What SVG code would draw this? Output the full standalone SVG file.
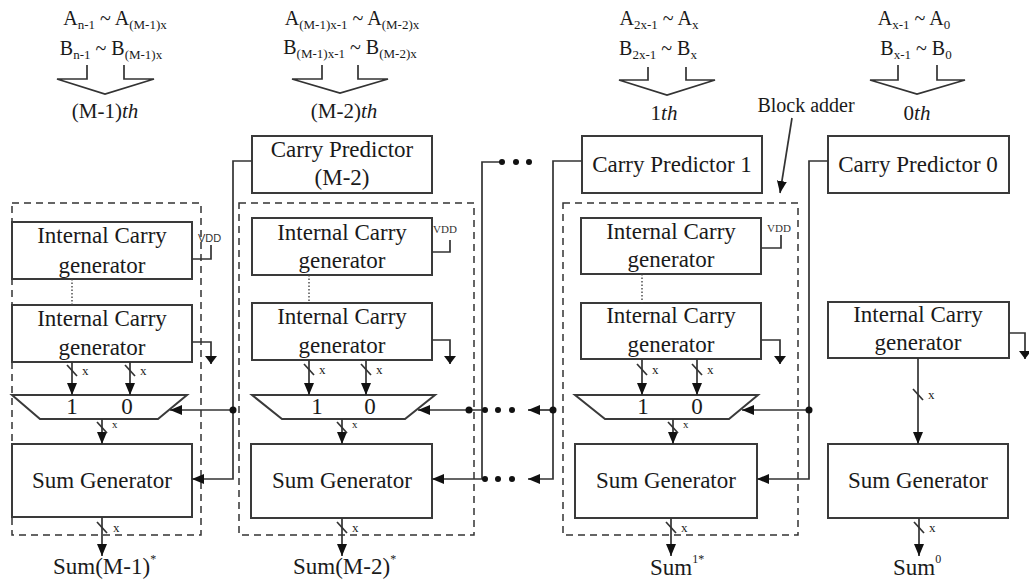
<svg xmlns="http://www.w3.org/2000/svg" width="1029" height="583" viewBox="0 0 1029 583">
<style>
.bg{fill:#fff}
.box{fill:none;stroke:#3a3a3a;stroke-width:2}
.dash{fill:none;stroke:#333;stroke-width:1.5;stroke-dasharray:7,5}
.w{fill:none;stroke:#333;stroke-width:1.7}
.dot{fill:#111}
.dotted{fill:none;stroke:#444;stroke-width:1.4;stroke-dasharray:1.5,2}
.t{font-family:"Liberation Serif",serif;fill:#1a1a1a;font-size:23px;text-anchor:middle}
.lab{font-family:"Liberation Serif",serif;fill:#1a1a1a;font-size:20px;text-anchor:middle}
.sub{font-size:13px}
.th{font-family:"Liberation Serif",serif;fill:#1a1a1a;font-size:21px;text-anchor:middle}
.x{font-family:"Liberation Serif",serif;fill:#222;font-size:13px}
.xs{font-family:"Liberation Serif",serif;fill:#222;font-size:11px}
.vdd{font-family:"Liberation Serif",serif;fill:#333;font-size:11px}
.sum{font-family:"Liberation Serif",serif;fill:#1a1a1a;font-size:23px}
.sup{font-size:12px}
</style>
<defs>
<marker id="ah" markerUnits="userSpaceOnUse" markerWidth="12" markerHeight="10" refX="12" refY="5" orient="auto">
<path d="M0,0 L12,5 L0,10 z" fill="#111"/>
</marker>
<marker id="gnd" markerUnits="userSpaceOnUse" markerWidth="9" markerHeight="12" refX="8" refY="6" orient="auto">
<path d="M0,0 L8,6 L0,12 z" fill="#111"/>
</marker>
</defs>
<rect class="bg" x="0" y="0" width="1029" height="583"/>

<!-- top inputs -->
<g id="in-m1">
<text class="lab" x="115" y="25">A<tspan class="sub" dy="4">n-1</tspan><tspan dy="-4"> ~ A</tspan><tspan class="sub" dy="4">(M-1)x</tspan></text>
<text class="lab" x="111" y="55">B<tspan class="sub" dy="4">n-1</tspan><tspan dy="-4"> ~ B</tspan><tspan class="sub" dy="4">(M-1)x</tspan></text>
<polyline class="w" points="87,65 87,79 57,79 105,94 154,79 124,79 124,65"/>
<text class="th" x="105" y="118">(M-1)<tspan font-style="italic">th</tspan></text>
</g>
<g id="in-m2">
<text class="lab" x="352" y="25">A<tspan class="sub" dy="4">(M-1)x-1</tspan><tspan dy="-4"> ~ A</tspan><tspan class="sub" dy="4">(M-2)x</tspan></text>
<text class="lab" x="350" y="54">B<tspan class="sub" dy="4">(M-1)x-1</tspan><tspan dy="-4"> ~ B</tspan><tspan class="sub" dy="4">(M-2)x</tspan></text>
<polyline class="w" points="322,65 322,79 292,79 340,93 388,79 358,79 358,65"/>
<text class="th" x="344" y="118">(M-2)<tspan font-style="italic">th</tspan></text>
</g>
<g id="in-1">
<text class="lab" x="659" y="25">A<tspan class="sub" dy="4">2x-1</tspan><tspan dy="-4"> ~ A</tspan><tspan class="sub" dy="4">x</tspan></text>
<text class="lab" x="658" y="55">B<tspan class="sub" dy="4">2x-1</tspan><tspan dy="-4"> ~ B</tspan><tspan class="sub" dy="4">x</tspan></text>
<polyline class="w" points="648,67 648,80 619,80 667,95 715,80 686,80 686,67"/>
<text class="th" x="664" y="120">1<tspan font-style="italic">th</tspan></text>
</g>
<g id="in-0">
<text class="lab" x="914" y="25">A<tspan class="sub" dy="4">x-1</tspan><tspan dy="-4"> ~ A</tspan><tspan class="sub" dy="4">0</tspan></text>
<text class="lab" x="916" y="55">B<tspan class="sub" dy="4">x-1</tspan><tspan dy="-4"> ~ B</tspan><tspan class="sub" dy="4">0</tspan></text>
<polyline class="w" points="898,65 898,80 870,80 917,94 965,80 937,80 937,65"/>
<text class="th" x="917" y="120">0<tspan font-style="italic">th</tspan></text>
</g>

<g id="block-adder-label">
<text class="lab" x="806" y="112" font-size="19">Block adder</text>
</g>

<!-- Block (M-1) -->
<g id="block-m1">
<rect class="dash" x="12" y="203" width="189" height="332"/>
<rect class="box" x="12" y="222" width="180" height="57"/>
<text class="t" x="102" y="243">Internal Carry</text>
<text class="t" x="102" y="273">generator</text>
<rect class="box" x="12" y="305" width="180" height="57"/>
<text class="t" x="102" y="326">Internal Carry</text>
<text class="t" x="102" y="355">generator</text>
<line class="dotted" x1="72" y1="279" x2="72" y2="305"/>
<polyline class="w" points="192,259 211,259 211,245"/>
<text x="198" y="242" font-family="Liberation Sans, sans-serif" font-size="11" fill="#333">VDD</text>
<polyline class="w" points="192,342 211,342 211,364" marker-end="url(#gnd)"/>
<polygon class="box" points="12,395 187,395 158,419 40,419"/>
<text class="t" x="72" y="414">1</text>
<text class="t" x="127" y="414">0</text>
<rect class="box" x="12" y="444" width="180" height="73"/>
<text class="t" x="102" y="488">Sum Generator</text>
</g>

<!-- Block (M-2) -->
<g id="predictor-m2">
<rect class="box" x="252" y="136" width="180" height="57"/>
<text class="t" x="342" y="157">Carry Predictor</text>
<text class="t" x="342" y="185">(M-2)</text>
</g>
<g id="block-m2">
<rect class="dash" x="239" y="203" width="235" height="332"/>
<rect class="box" x="252" y="218" width="180" height="57"/>
<text class="t" x="342" y="240">Internal Carry</text>
<text class="t" x="342" y="268">generator</text>
<rect class="box" x="252" y="303" width="180" height="57"/>
<text class="t" x="342" y="324">Internal Carry</text>
<text class="t" x="342" y="353">generator</text>
<line class="dotted" x1="309" y1="275" x2="309" y2="303"/>
<polyline class="w" points="432,252 450,252 450,240"/>
<text class="vdd" x="433" y="233">VDD</text>
<polyline class="w" points="432,340 450,340 450,364" marker-end="url(#gnd)"/>
<polygon class="box" points="252,395 435,395 405,419 282,419"/>
<text class="t" x="317" y="414">1</text>
<text class="t" x="370" y="414">0</text>
<rect class="box" x="251" y="444" width="181" height="74"/>
<text class="t" x="342" y="488">Sum Generator</text>
</g>

<!-- Block 1 -->
<g id="predictor-1">
<rect class="box" x="582" y="136" width="180" height="57"/>
<text class="t" x="672" y="172">Carry Predictor 1</text>
</g>
<g id="block-1">
<rect class="dash" x="563" y="203" width="235" height="332"/>
<rect class="box" x="581" y="218" width="180" height="56"/>
<text class="t" x="671" y="239">Internal Carry</text>
<text class="t" x="671" y="267">generator</text>
<rect class="box" x="581" y="303" width="180" height="56"/>
<text class="t" x="671" y="323">Internal Carry</text>
<text class="t" x="671" y="352">generator</text>
<line class="dotted" x1="642" y1="274" x2="642" y2="303"/>
<polyline class="w" points="761,248 781,248 781,235"/>
<text class="vdd" x="767" y="232">VDD</text>
<polyline class="w" points="761,340 780,340 780,364" marker-end="url(#gnd)"/>
<polygon class="box" points="575,395 758,395 729,419 605,419"/>
<text class="t" x="643" y="414">1</text>
<text class="t" x="697" y="414">0</text>
<rect class="box" x="575" y="444" width="182" height="74"/>
<text class="t" x="666" y="488">Sum Generator</text>
</g>

<!-- Block 0 -->
<g id="predictor-0">
<rect class="box" x="828" y="136" width="181" height="57"/>
<text class="t" x="918" y="172">Carry Predictor 0</text>
</g>
<g id="block-0">
<rect class="box" x="828" y="302" width="181" height="56"/>
<text class="t" x="918" y="322">Internal Carry</text>
<text class="t" x="918" y="350">generator</text>
<polyline class="w" points="1009,333 1025,333 1025,359" marker-end="url(#gnd)"/>
<rect class="box" x="828" y="444" width="180" height="74"/>
<text class="t" x="918" y="488">Sum Generator</text>
</g>

<!-- outputs -->
<g id="outputs">
<text class="sum" x="53" y="574">Sum(M-1)<tspan class="sup" dy="-11">*</tspan></text>
<text class="sum" x="293" y="574">Sum(M-2)<tspan class="sup" dy="-11">*</tspan></text>
<text class="sum" x="650" y="575">Sum<tspan class="sup" dy="-12">1*</tspan></text>
<text class="sum" x="893" y="575">Sum<tspan class="sup" dy="-12">0</tspan></text>
</g>

<g id="connectors">
<!-- block adder pointer -->
<line class="w" x1="792" y1="118" x2="780" y2="193" marker-end="url(#ah)"/>

<!-- block M-1 buses -->
<line class="w" x1="72" y1="362" x2="72" y2="395" marker-end="url(#ah)"/>
<line class="w" x1="130" y1="362" x2="130" y2="395" marker-end="url(#ah)"/>
<line class="w" x1="102" y1="419" x2="102" y2="444" marker-end="url(#ah)"/>
<line class="w" x1="102" y1="517" x2="102" y2="556" marker-end="url(#ah)"/>
<!-- block M-2 buses -->
<line class="w" x1="309" y1="360" x2="309" y2="395" marker-end="url(#ah)"/>
<line class="w" x1="366" y1="360" x2="366" y2="395" marker-end="url(#ah)"/>
<line class="w" x1="342" y1="419" x2="342" y2="444" marker-end="url(#ah)"/>
<line class="w" x1="342" y1="518" x2="342" y2="556" marker-end="url(#ah)"/>
<!-- block 1 buses -->
<line class="w" x1="642" y1="359" x2="642" y2="395" marker-end="url(#ah)"/>
<line class="w" x1="697" y1="359" x2="697" y2="395" marker-end="url(#ah)"/>
<line class="w" x1="673" y1="419" x2="673" y2="444" marker-end="url(#ah)"/>
<line class="w" x1="671" y1="518" x2="671" y2="556" marker-end="url(#ah)"/>
<!-- block 0 buses -->
<line class="w" x1="918" y1="358" x2="918" y2="444" marker-end="url(#ah)"/>
<line class="w" x1="919" y1="518" x2="919" y2="556" marker-end="url(#ah)"/>

<!-- bus slashes -->
<g class="w">
<line x1="67" y1="365" x2="77" y2="376"/><line x1="125" y1="365" x2="135" y2="376"/>
<line x1="97" y1="422" x2="107" y2="433"/><line x1="97" y1="522" x2="107" y2="533"/>
<line x1="304" y1="364" x2="314" y2="375"/><line x1="361" y1="364" x2="371" y2="375"/>
<line x1="337" y1="422" x2="347" y2="433"/><line x1="337" y1="522" x2="347" y2="533"/>
<line x1="637" y1="364" x2="647" y2="375"/><line x1="692" y1="364" x2="702" y2="375"/>
<line x1="668" y1="422" x2="678" y2="433"/><line x1="666" y1="522" x2="676" y2="533"/>
<line x1="913" y1="389" x2="923" y2="400"/><line x1="914" y1="522" x2="924" y2="533"/>
</g>
<text class="x" x="82" y="375">x</text><text class="x" x="140" y="375">x</text>
<text class="xs" x="112" y="428">x</text><text class="x" x="113" y="532">x</text>
<text class="x" x="319" y="374">x</text><text class="x" x="376" y="374">x</text>
<text class="xs" x="352" y="428">x</text><text class="x" x="352" y="532">x</text>
<text class="x" x="652" y="374">x</text><text class="x" x="707" y="374">x</text>
<text class="xs" x="683" y="428">x</text><text class="x" x="681" y="532">x</text>
<text class="x" x="928" y="399">x</text><text class="x" x="929" y="532">x</text>

<!-- carry predictor (M-2) to block M-1 -->
<polyline class="w" points="252,161 233,161 233,479 192,479" marker-end="url(#ah)"/>
<line class="w" x1="233" y1="410" x2="170" y2="410" marker-end="url(#ah)"/>
<circle class="dot" cx="233" cy="410" r="3.5"/>

<!-- elided chain to block M-2 -->
<polyline class="w" points="502,162 482,162 482,479 432,479" marker-end="url(#ah)"/>
<line class="w" x1="482" y1="410" x2="418" y2="410" marker-end="url(#ah)"/>
<circle class="dot" cx="469" cy="410" r="3.5"/>
<circle class="dot" cx="502" cy="162" r="3"/><circle class="dot" cx="516" cy="162" r="3"/><circle class="dot" cx="529" cy="162" r="3"/>
<circle class="dot" cx="485" cy="410" r="3"/><circle class="dot" cx="498" cy="410" r="3"/><circle class="dot" cx="512" cy="410" r="3"/>
<circle class="dot" cx="485" cy="479" r="3"/><circle class="dot" cx="498" cy="479" r="3"/><circle class="dot" cx="512" cy="479" r="3"/>

<!-- carry predictor 1 outputs -->
<polyline class="w" points="582,161 553,161 553,479 528,479" marker-end="url(#ah)"/>
<line class="w" x1="553" y1="410" x2="528" y2="410" marker-end="url(#ah)"/>
<circle class="dot" cx="553" cy="410" r="3.5"/>

<!-- carry predictor 0 to block 1 -->
<polyline class="w" points="828,161 809,161 809,479 757,479" marker-end="url(#ah)"/>
<line class="w" x1="809" y1="410" x2="742" y2="410" marker-end="url(#ah)"/>
<circle class="dot" cx="809" cy="410" r="3.5"/>
</g>
</svg>
